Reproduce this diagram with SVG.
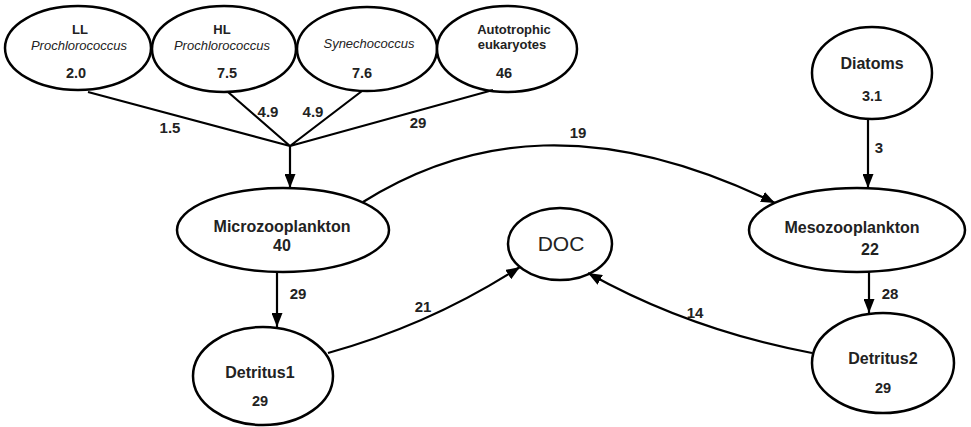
<svg xmlns="http://www.w3.org/2000/svg" width="971" height="427" viewBox="0 0 971 427">
<style>
.n ellipse{fill:#fff;stroke:#000;stroke-width:2.5}
text{font-family:"Liberation Sans",Arial,sans-serif;fill:#222;text-anchor:middle}
.b{font-weight:bold;font-size:13px}
.num{font-weight:bold;font-size:14.5px}
.i{font-style:italic;font-size:13px}
.big{font-weight:bold;font-size:16px}
.e{fill:none;stroke:#000;stroke-width:2.2}
.lab{font-weight:bold;font-size:15px}
</style>
<defs>
<marker id="ah" markerUnits="userSpaceOnUse" markerWidth="15" markerHeight="11" refX="14" refY="5.5" orient="auto">
<path d="M0,0 L14,5.5 L0,11 z" fill="#000"/>
</marker>
</defs>
<rect width="971" height="427" fill="#fff"/>
<g id="ll" class="n"><ellipse cx="78" cy="48" rx="73" ry="42"/>
<text x="80" y="34" class="b">LL</text><text x="79" y="50" class="i">Prochlorococcus</text><text x="76" y="78" class="num">2.0</text></g>
<g id="hl" class="n"><ellipse cx="224" cy="49" rx="72" ry="43"/>
<text x="222" y="34" class="b">HL</text><text x="222" y="50" class="i">Prochlorococcus</text><text x="227" y="78" class="num">7.5</text></g>
<g id="syn" class="n"><ellipse cx="367" cy="49" rx="70" ry="42"/>
<text x="369" y="48" class="i">Synechococcus</text><text x="362" y="78" class="num">7.6</text></g>
<g id="auto" class="n"><ellipse cx="507" cy="49" rx="70" ry="43"/>
<text x="514" y="34" class="b">Autotrophic</text><text x="512" y="49" class="b">eukaryotes</text><text x="504" y="78" class="num">46</text></g>
<g id="diatoms" class="n"><ellipse cx="872" cy="73" rx="60" ry="46"/>
<text x="872" y="69" class="big">Diatoms</text><text x="872" y="101" class="num">3.1</text></g>
<g id="micro" class="n"><ellipse cx="283" cy="230" rx="106" ry="42"/>
<text x="282" y="232" class="big">Microzooplankton</text><text x="282" y="251" class="big">40</text></g>
<g id="meso" class="n"><ellipse cx="857" cy="230" rx="108" ry="42"/>
<text x="852" y="233" class="big">Mesozooplankton</text><text x="870" y="255" class="big">22</text></g>
<g id="doc" class="n"><ellipse cx="560" cy="244" rx="52" ry="36"/>
<text x="561" y="251" style="font-size:21px">DOC</text></g>
<g id="det1" class="n"><ellipse cx="263" cy="376" rx="70" ry="49"/>
<text x="260" y="378" class="big">Detritus1</text><text x="260" y="406" class="num">29</text></g>
<g id="det2" class="n"><ellipse cx="883" cy="363" rx="71" ry="50"/>
<text x="883" y="364" class="big">Detritus2</text><text x="883" y="393" class="num">29</text></g>
<g id="connectors">
<path class="e" d="M88,92 L290,146 M228,92 L290,146 M362,91 L290,146 M493,90 L290,146"/>
<path class="e" d="M290,146 L290,188" marker-end="url(#ah)"/>
<path class="e" d="M363,202 C470,135 600,118 775,203" marker-end="url(#ah)"/>
<path class="e" d="M868,119 L868,188" marker-end="url(#ah)"/>
<path class="e" d="M277,272 L277,327" marker-end="url(#ah)"/>
<path class="e" d="M869,272 L869,313" marker-end="url(#ah)"/>
<path class="e" d="M328,353 Q430,325 520,267" marker-end="url(#ah)"/>
<path class="e" d="M812,353 Q690,330 588,273" marker-end="url(#ah)"/>
<text x="170" y="133" class="lab">1.5</text>
<text x="268" y="117" class="lab">4.9</text>
<text x="313" y="117" class="lab">4.9</text>
<text x="418" y="128" class="lab">29</text>
<text x="578" y="138" class="lab">19</text>
<text x="879" y="153" class="lab">3</text>
<text x="298" y="299" class="lab">29</text>
<text x="890" y="299" class="lab">28</text>
<text x="423" y="312" class="lab">21</text>
<text x="695" y="318" class="lab">14</text>
</g>
</svg>
